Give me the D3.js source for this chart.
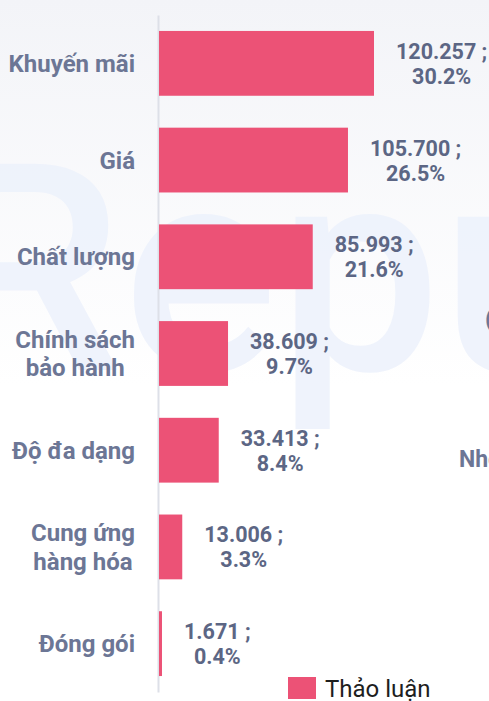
<!DOCTYPE html>
<html>
<head>
<meta charset="utf-8">
<script src="https://cdn.jsdelivr.net/npm/d3@7"></script>
<style>
  html, body { margin: 0; padding: 0; background: #fff; }
  svg { display: block; font-family: Roboto, "Noto Sans", sans-serif; }
</style>
</head>
<body>
<svg id="chart" width="489" height="701"></svg>
<script>
// du lieu doc tu hinh
const categories = [
  ["Khuyến mãi"],
  ["Giá"],
  ["Chất lượng"],
  ["Chính sách", "bảo hành"],
  ["Độ đa dạng"],
  ["Cung ứng", "hàng hóa"],
  ["Đóng gói"]
];
const values = [120257, 105700, 85993, 38609, 33413, 13006, 1671];
const valueLabels = ["120.257 ;", "105.700 ;", "85.993 ;", "38.609 ;", "33.413 ;", "13.006 ;", "1.671 ;"];
const percentLabels = ["30.2%", "26.5%", "21.6%", "9.7%", "8.4%", "3.3%", "0.4%"];
const seriesName = "Thảo luận";

const barColor = "#ec5276";
const catColor = "#6c7695";
const valColor = "#5c6684";

const svg = d3.select("#chart");

// nen + watermark
const defs = svg.append("defs");
const grad = defs.append("linearGradient")
    .attr("id", "bg").attr("x1", 0).attr("y1", 0).attr("x2", 0).attr("y2", 1);
grad.append("stop").attr("offset", "0%").attr("stop-color", "#f3f4f8");
grad.append("stop").attr("offset", "55%").attr("stop-color", "#ffffff");
svg.append("rect").attr("width", 489).attr("height", 701).attr("fill", "url(#bg)");

svg.append("text")
    .attr("x", -60).attr("y", 370)
    .style("font-size", "290px")
    .style("font-weight", 500)
    .style("fill", "#edf2fc")
    .style("opacity", 0.85)
    .text("Reputa");

// phan chu bi cat ben phai
svg.append("text")
    .attr("x", 459).attr("y", 467)
    .style("font-size", "23px").style("font-weight", "bold").style("fill", catColor)
    .text("Nhóm");
svg.append("text")
    .attr("x", 485).attr("y", 327)
    .style("font-size", "23px").style("font-weight", "bold").style("fill", catColor)
    .text("(");

const idx = d3.range(values.length);

const y = d3.scaleBand()
    .domain(idx)
    .range([15, 692])
    .paddingInner(0.33)
    .paddingOuter(0.165);

const x = d3.scaleLinear()
    .domain([0, d3.max(values)])
    .range([159, 374]);

// truc doc
const axis = svg.append("g")
    .attr("transform", "translate(158,0)")
    .call(d3.axisLeft(y).tickSize(0).tickFormat(""));
axis.select(".domain").attr("stroke", "#dde0e8").attr("stroke-width", 2);

svg.append("g")
    .selectAll("rect")
    .data(idx)
    .enter()
    .append("rect")
    .attr("x", x(0))
    .attr("y", i => y(i))
    .attr("width", i => Math.max(1, x(values[i]) - x(0)))
    .attr("height", y.bandwidth())
    .attr("fill", barColor);

// nhan danh muc (khoi can giua, can phai tai x=135)
const catLH = 28.5;
categories.forEach((lines, i) => {
    const cy = y(i) + y.bandwidth() / 2;
    const t = svg.append("text")
        .style("font-size", "24px")
        .style("font-weight", "bold")
        .style("fill", catColor)
        .style("text-anchor", "middle");
    lines.forEach(l => {
        t.append("tspan").text(l);
    });
    const spans = t.selectAll("tspan");
    let w = 0;
    spans.each(function() { w = Math.max(w, this.getComputedTextLength()); });
    const cx = 135 - w / 2;
    const first = cy + 8.5 - (lines.length - 1) * catLH / 2;
    spans.attr("x", cx).attr("y", (d, k) => first + k * catLH);
});

// nhan gia tri
const valLH = 25;
idx.forEach(i => {
    const cy = y(i) + y.bandwidth() / 2;
    const t = svg.append("text")
        .style("font-size", "21.5px")
        .style("font-weight", "bold")
        .style("fill", valColor)
        .style("text-anchor", "middle");
    t.append("tspan").text(valueLabels[i]);
    t.append("tspan").text(percentLabels[i]);
    const spans = t.selectAll("tspan");
    let w = 0;
    spans.each(function() { w = Math.max(w, this.getComputedTextLength()); });
    const cx = x(values[i]) + 22 + w / 2;
    spans.attr("x", cx).attr("y", (d, k) => cy - 4.5 + k * valLH);
});

// chu giai
const legend = svg.append("g").attr("transform", "translate(288,677)");
legend.append("rect").attr("width", 28).attr("height", 22).attr("fill", barColor);
legend.append("text")
    .attr("x", 37).attr("y", 20)
    .style("font-size", "24px")
    .style("fill", "#1e1e1e")
    .text(seriesName);
</script>
</body>
</html>
